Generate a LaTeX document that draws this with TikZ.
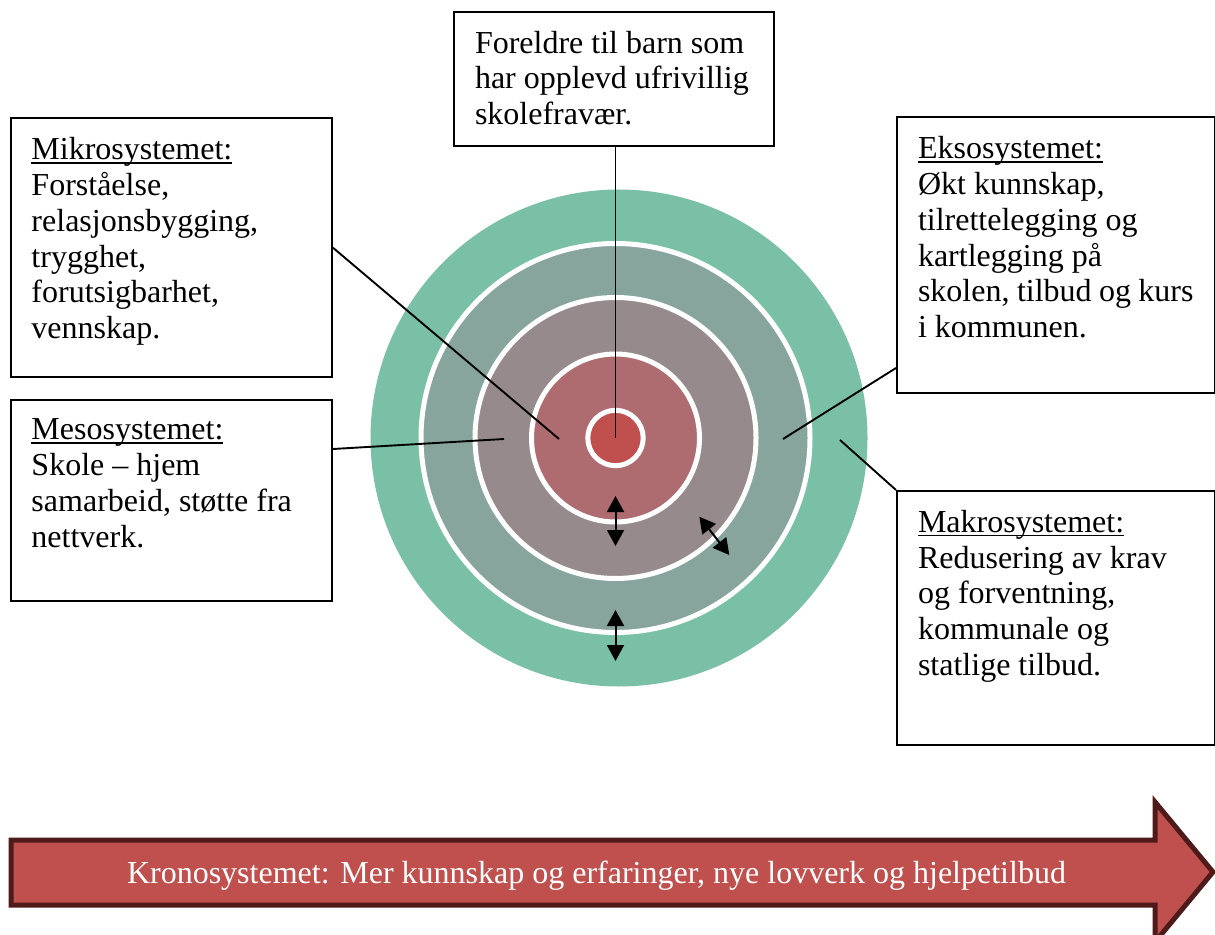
\documentclass[tikz,border=0pt]{standalone}
\usepackage{fontspec}
\setmainfont{Liberation Serif}
\usetikzlibrary{arrows.meta,calc}
\definecolor{ringA}{HTML}{7AC0A6}
\definecolor{ringB}{HTML}{87A59D}
\definecolor{ringC}{HTML}{978A8C}
\definecolor{ringD}{HTML}{AE6B70}
\definecolor{ringE}{HTML}{C0504D}
\definecolor{arrowfill}{HTML}{C0504D}
\definecolor{arrowedge}{HTML}{4E1A1A}
\newcommand\myul[1]{\leavevmode\setbox0\hbox{#1}\rlap{\rule[-2pt]{\wd0}{0.8pt}}\box0}
\newcommand\bxt[3]{\parbox[c][#2][t]{#1}{\raggedright\vspace*{9.5pt}#3}}
\tikzset{
  sbox/.style={draw, line width=1pt, anchor=north west, inner xsep=10.5pt, inner ysep=0pt,
    font=\fontsize{16pt}{17.9pt}\selectfont},
  link/.style={draw, line width=0.95pt},
  dbl/.style={line width=1pt, {Triangle[length=8pt,width=8.5pt]}-{Triangle[length=8pt,width=8.5pt]}},
  ringline/.style={draw=white, line width=2.5pt}
}
\begin{document}
\begin{tikzpicture}[x=0.5pt,y=-0.5pt]
\useasboundingbox (0,0) rectangle (1215,935);
% rings
\coordinate (c) at (615.5,438);
\fill[ringA] (619,438) circle [radius=124.25pt];
\filldraw[fill=ringB, ringline] (c) circle [radius=97.25pt];
\filldraw[fill=ringC, ringline] (c) circle [radius=70.25pt];
\filldraw[fill=ringD, ringline] (c) circle [radius=42pt];
\filldraw[fill=ringE, ringline] (c) circle [radius=13.85pt];
% boxes
\node[sbox] (top) at (453,11) {\bxt{139pt}{67pt}{Foreldre til barn som\\har opplevd ufrivillig\\skolefravær.}};
\node[sbox] (mikro) at (9.5,117.5) {\bxt{139.75pt}{129.25pt}{\myul{Mikrosystemet:}\\Forståelse,\\relasjonsbygging,\\trygghet,\\forutsigbarhet,\\vennskap.}};
\node[sbox] (meso) at (9.5,399) {\bxt{139.75pt}{100.5pt}{\myul{Mesosystemet:}\\Skole – hjem\\samarbeid, støtte fra\\nettverk.}};
\node[sbox] (ekso) at (896,116.5) {\bxt{137.75pt}{137.75pt}{\myul{Eksosystemet:}\\Økt kunnskap,\\tilrettelegging og\\kartlegging på\\skolen, tilbud og kurs\\i kommunen.}};
\node[sbox] (makro) at (896,490) {\bxt{137.75pt}{127pt}{\myul{Makrosystemet:}\\Redusering av krav\\og forventning,\\kommunale og\\statlige tilbud.}};
% connector end points
\coordinate (mikroend) at (559,439);
\coordinate (mesoend) at (504,439);
\coordinate (eksoend) at (783,439);
\coordinate (makroend) at (840,440);
\draw[link] (c |- top.south) -- (c);
\draw[link] (mikro.east) -- (mikroend);
\draw[link] ($(meso.north east)+(0,50)$) -- (mesoend);
\draw[link] ($(ekso.south west)+(0,-26)$) -- (eksoend);
\draw[link] (makro.north west) -- (makroend);
% double arrows
\coordinate (a1s) at (615.5,496); \coordinate (a1e) at (615.5,546);
\coordinate (a2s) at (699.3,516.7); \coordinate (a2e) at (729.3,555);
\coordinate (a3s) at (615.5,610); \coordinate (a3e) at (615.5,661);
\draw[dbl] (a1s) -- (a1e);
\draw[dbl] (a2s) -- (a2e);
\draw[dbl] (a3s) -- (a3e);
% time arrow
\filldraw[fill=arrowfill, draw=arrowedge, line width=2.5pt, line join=miter]
  (11,840) -- (1155,840) -- (1155,802) -- (1213,872) -- (1155,942) -- (1155,905) -- (11,905) -- cycle;
\node[anchor=base, text=white, font=\fontsize{16pt}{17.9pt}\selectfont, inner sep=0pt] (krono) at (596.5,883)
  {Kronosystemet: Mer kunnskap og erfaringer, nye lovverk og hjelpetilbud};
\end{tikzpicture}
\end{document}
